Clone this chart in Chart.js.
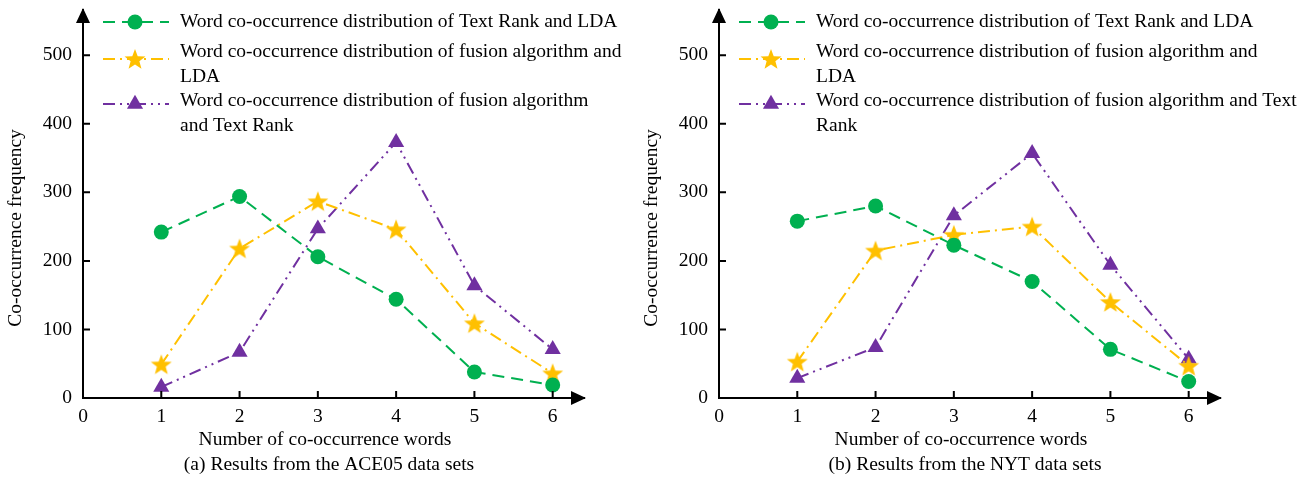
<!DOCTYPE html>
<html>
<head>
<meta charset="utf-8">
<script src="https://cdn.jsdelivr.net/npm/chart.js@4.4.0/dist/chart.umd.min.js"></script>
<style>
  body { margin: 0; background: #fff; }
  #wrap { position: relative; width: 1310px; height: 479px; }
  canvas { position: absolute; top: 0; }
</style>
</head>
<body>
<div id="wrap">
  <canvas id="chartA" width="655" height="479" style="left:0"></canvas>
  <canvas id="chartB" width="674" height="479" style="left:636px"></canvas>
</div>
<script>
// x positions and tick values
var xValues = [1, 2, 3, 4, 5, 6];
var xTicks = [0, 1, 2, 3, 4, 5, 6];
var yTicks = [0, 100, 200, 300, 400, 500];

// (a) ACE05
var ace05TextRankLda = [242, 294, 206, 144, 38, 19];
var ace05FusionLda = [49, 218, 287, 246, 109, 36];
var ace05FusionTextRank = [16, 67, 247, 373, 164, 71];

// (b) NYT
var nytTextRankLda = [258, 280, 223, 170, 71, 24];
var nytFusionLda = [53, 215, 238, 250, 140, 47];
var nytFusionTextRank = [29, 74, 266, 357, 194, 57];

var seriesLabels = [
  'Word co-occurrence distribution of Text Rank and LDA',
  'Word co-occurrence distribution of fusion algorithm and LDA',
  'Word co-occurrence distribution of fusion algorithm and Text Rank'
];

// legend text is wrapped differently in the two panels
var legendLinesA = [
  ['Word co-occurrence distribution of Text Rank and LDA'],
  ['Word co-occurrence distribution of fusion algorithm and', 'LDA'],
  ['Word co-occurrence distribution of fusion algorithm', 'and Text Rank']
];
var legendLinesB = [
  ['Word co-occurrence distribution of Text Rank and LDA'],
  ['Word co-occurrence distribution of fusion algorithm and', 'LDA'],
  ['Word co-occurrence distribution of fusion algorithm and Text', 'Rank']
];

var yTitle = 'Co-occurrence frequency';
var xTitle = 'Number of co-occurrence words';
var captionA = '(a) Results from the ACE05 data sets';
var captionB = '(b) Results from the NYT data sets';

var GREEN = '#00B050', GOLD = '#FFC000', PURPLE = '#7030A0';
var FONT = '"Liberation Serif", "Times New Roman", serif';
var FONT_SIZE = 19.5;

function makeStar(color, outer, inner) {
  var size = Math.ceil(outer * 2 + 2);
  var c = document.createElement('canvas');
  c.width = c.height = size;
  var g = c.getContext('2d');
  var cx = size / 2, cy = size / 2 + outer * 0.08;
  g.beginPath();
  for (var i = 0; i < 10; i++) {
    var r = i % 2 ? inner : outer;
    var a = -Math.PI / 2 + i * Math.PI / 5;
    g.lineTo(cx + r * Math.cos(a), cy + r * Math.sin(a));
  }
  g.closePath();
  g.fillStyle = color;
  g.fill();
  return c;
}
var starImg = makeStar(GOLD, 11, 4.6);

function toPoints(values) {
  return xValues.map(function (x, i) { return { x: x, y: values[i] }; });
}

function makeDatasets(a, b, c) {
  return [
    { label: seriesLabels[0], data: toPoints(a), borderColor: GREEN, backgroundColor: GREEN,
      borderWidth: 2, borderDash: [12, 7], pointStyle: 'circle', pointRadius: 7.5, pointBorderWidth: 0 },
    { label: seriesLabels[1], data: toPoints(b), borderColor: GOLD, backgroundColor: GOLD,
      borderWidth: 2, borderDash: [12, 5, 2, 5], pointStyle: starImg, pointRadius: 11, pointBorderWidth: 0 },
    { label: seriesLabels[2], data: toPoints(c), borderColor: PURPLE, backgroundColor: PURPLE,
      borderWidth: 2, borderDash: [12, 5, 2, 5, 2, 5], pointStyle: 'triangle', pointRadius: 9.3, pointBorderWidth: 0 }
  ];
}

// arrows, inward ticks, titles and the legend
var decor = {
  id: 'decor',
  afterDraw: function (chart, args, o) {
    var ctx = chart.ctx, xs = chart.scales.x, ys = chart.scales.y;
    var x0 = xs.getPixelForValue(0), y0 = ys.getPixelForValue(0);
    var area = chart.chartArea;
    ctx.save();
    ctx.strokeStyle = '#000';
    ctx.fillStyle = '#000';
    ctx.lineWidth = 2;
    ctx.beginPath();
    xTicks.forEach(function (v) {
      if (v === 0) return;
      var px = xs.getPixelForValue(v);
      ctx.moveTo(px, y0); ctx.lineTo(px, y0 - 7);
    });
    yTicks.forEach(function (v) {
      if (v === 0) return;
      var py = ys.getPixelForValue(v);
      ctx.moveTo(x0, py); ctx.lineTo(x0 + 7, py);
    });
    ctx.stroke();

    // arrow heads
    ctx.beginPath();
    ctx.moveTo(x0, area.top - 2);
    ctx.lineTo(x0 - 7, area.top + 13);
    ctx.lineTo(x0 + 7, area.top + 13);
    ctx.closePath();
    ctx.fill();
    ctx.beginPath();
    ctx.moveTo(area.right + 2, y0);
    ctx.lineTo(area.right - 13, y0 - 7);
    ctx.lineTo(area.right - 13, y0 + 7);
    ctx.closePath();
    ctx.fill();

    ctx.font = FONT_SIZE + 'px ' + FONT;
    ctx.textAlign = 'center';
    ctx.textBaseline = 'middle';
    ctx.fillText(xTitle, x0 + 242, 440);
    ctx.fillText(o.caption, x0 + 246, 465);
    ctx.save();
    ctx.translate(x0 - 67, y0 - 170);
    ctx.rotate(-Math.PI / 2);
    ctx.fillText(yTitle, 0, 0);
    ctx.restore();

    // legend
    var markerY = [22, 59, 104];
    var textY = [[22], [52, 77], [101, 126]];
    ctx.textAlign = 'left';
    chart.data.datasets.forEach(function (ds, i) {
      var my = markerY[i], mx = x0 + 52;
      ctx.save();
      ctx.strokeStyle = ds.borderColor;
      ctx.lineWidth = 2;
      ctx.setLineDash(ds.borderDash);
      ctx.beginPath();
      ctx.moveTo(x0 + 20, my); ctx.lineTo(x0 + 86, my);
      ctx.stroke();
      ctx.setLineDash([]);
      ctx.fillStyle = ds.backgroundColor;
      Chart.helpers.drawPoint(ctx, { pointStyle: ds.pointStyle, radius: ds.pointRadius, rotation: 0, borderWidth: 0 }, mx, my);
      ctx.restore();
      o.legend[i].forEach(function (line, k) {
        ctx.fillText(line, x0 + 97, textY[i][k]);
      });
    });
    ctx.restore();
  }
};

function makeChart(id, datasets, legend, caption, padRight) {
  var ctx = document.getElementById(id).getContext('2d');
  return new Chart(ctx, {
    type: 'line',
    data: { datasets: datasets },
    options: {
      responsive: false,
      animation: false,
      devicePixelRatio: 1,
      layout: { autoPadding: false, padding: { left: 0, top: 10, right: padRight, bottom: 0 } },
      elements: { line: { tension: 0, fill: false } },
      plugins: { legend: { display: false }, tooltip: { enabled: false }, decor: { legend: legend, caption: caption } },
      scales: {
        x: {
          type: 'linear', min: 0, max: 6.4,
          afterBuildTicks: function (s) { s.ticks = xTicks.map(function (v) { return { value: v }; }); },
          afterFit: function (s) { s.height = 81; s.paddingLeft = 0; s.paddingRight = 0; },
          grid: { display: false, drawTicks: false },
          border: { display: true, color: '#000', width: 2 },
          ticks: { color: '#000', padding: 7, font: { family: FONT, size: FONT_SIZE } }
        },
        y: {
          min: 0, max: 566,
          afterBuildTicks: function (s) { s.ticks = yTicks.map(function (v) { return { value: v }; }); },
          afterFit: function (s) { s.width = 83; s.paddingTop = 0; s.paddingBottom = 0; },
          grid: { display: false, drawTicks: false },
          border: { display: true, color: '#000', width: 2 },
          ticks: { color: '#000', padding: 11, font: { family: FONT, size: FONT_SIZE } }
        }
      }
    },
    plugins: [decor]
  });
}

makeChart('chartA', makeDatasets(ace05TextRankLda, ace05FusionLda, ace05FusionTextRank), legendLinesA, captionA, 71);
makeChart('chartB', makeDatasets(nytTextRankLda, nytFusionLda, nytFusionTextRank), legendLinesB, captionB, 90);
</script>
</body>
</html>
